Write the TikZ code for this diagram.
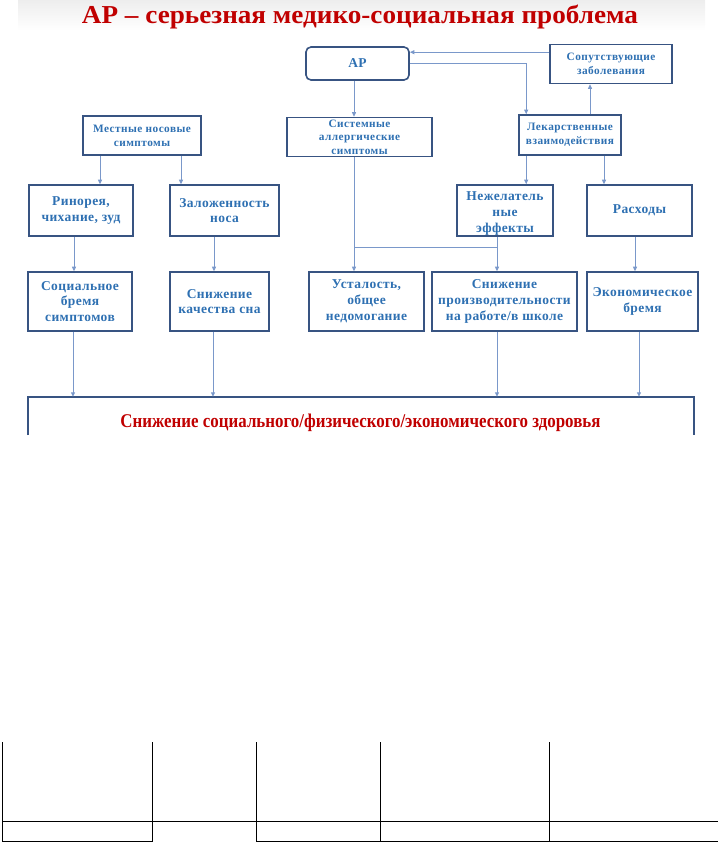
\documentclass[tikz,border=0pt]{standalone}
\usepackage{fontspec}
\setmainfont{Liberation Serif}
\newfontfamily\boxfont[LetterSpace=3]{Liberation Serif}
\newfontfamily\smallfamily[LetterSpace=4]{Liberation Serif}
\usetikzlibrary{arrows.meta,calc}
\definecolor{txtblue}{RGB}{46,112,178}
\definecolor{bordblue}{RGB}{56,84,130}
\definecolor{lineblue}{RGB}{122,152,202}
\definecolor{darkred}{RGB}{192,0,0}
\newcommand\bigboxfont{\boxfont\bfseries\fontsize{13.5}{15.8}\selectfont}
\newcommand\smallboxfont{\smallfamily\bfseries\fontsize{11.3}{14}\selectfont}
\tikzset{
  box/.style={draw=bordblue, line width=1.6pt, text=txtblue, font=\bigboxfont, align=center, inner sep=1pt},
  smallbox/.style={box, font=\smallboxfont},
  boxtext/.style={text=txtblue, font=\bigboxfont, align=center, inner sep=0pt},
  conn/.style={draw=lineblue, line width=0.9pt},
  arr/.style={conn, -{Triangle[length=4.5pt,width=4pt]}},
  tabline/.style={draw=black, line width=0.8pt},
}
\begin{document}
\begin{tikzpicture}[x=1pt,y=-1pt]
\useasboundingbox (0,0) rectangle (718,843);
\shade[top color=gray!14, bottom color=white] (18,0) rectangle (705,30);
% title
\node[anchor=base, text=darkred, font=\bfseries\fontsize{26}{30}\selectfont, inner sep=0] (title) at (360,24)
  {\resizebox{556pt}{18.5pt}{АР – серьезная медико-социальная проблема}};
% boxes
\node[box, rounded corners=5pt, minimum width=103, minimum height=33] (ap) at (357.5,63.5) {АР};
\node[smallbox, minimum width=122, minimum height=39] (sop) at (611,64) {Сопутствующие\\заболевания};
\node[smallbox, minimum width=118, minimum height=39] (mest) at (142,135.5) {Местные носовые\\симптомы};
\node[smallbox, minimum width=145, minimum height=39, font=\smallfamily\bfseries\fontsize{11.3}{13.6}\selectfont] (sys) at (359.5,137) {Системные\\аллергические\\симптомы};
\node[smallbox, minimum width=102, minimum height=40] (lek) at (570,135) {Лекарственные\\взаимодействия};
\node[box, minimum width=104, minimum height=51] (rin) at (81,210.5) {Ринорея,\\чихание, зуд};
\node[box, minimum width=109, minimum height=51] (zal) at (224.5,210.5) {Заложенность\\носа};
\node[box, minimum width=96, minimum height=51] (nezh) at (505,210.5) {};
\node[boxtext] (nezht) at ([yshift=-3pt]nezh.center) {Нежелатель\\ные\\эффекты};
\node[box, minimum width=105, minimum height=51] (ras) at (639.5,210.5) {Расходы};
\node[box, minimum width=104, minimum height=59] (soc) at (80,301.5) {Социальное\\бремя\\симптомов};
\node[box, minimum width=99, minimum height=59] (son) at (219.5,301.5) {Снижение\\качества сна};
\node[box, minimum width=115, minimum height=59] (ust) at (366.5,301.5) {Усталость,\\общее\\недомогание};
\node[box, minimum width=145, minimum height=59] (pro) at (504.5,301.5) {Снижение\\производительности\\на работе/в школе};
\node[box, minimum width=111, minimum height=59] (eko) at (642.5,301.5) {Экономическое\\бремя};
% bottom open box
\node[minimum width=666, minimum height=38, inner sep=0] (bot) at (361,416) {};
\draw[draw=bordblue, line width=1.6pt] (bot.south west) |- (bot.north east) -- (bot.south east);
\node[anchor=base, text=darkred, font=\bfseries\fontsize{18}{20}\selectfont, inner sep=0] (bottext) at (360.5,427)
  {\resizebox{480pt}{13.5pt}{Снижение социального/физического/экономического здоровья}};
% helper coordinates
\coordinate (apin) at ([yshift=-6pt]ap.north east);
\coordinate (lekin) at ([xshift=8pt]lek.north west);
\coordinate (sopin) at ([xshift=-21pt]sop.south);
\coordinate (apout) at ([xshift=-3.5pt]ap.south);
\coordinate (m1) at ([xshift=-42pt]mest.south);
\coordinate (m2) at ([xshift=39pt]mest.south);
\coordinate (l2) at ([xshift=34pt]lek.south);
\coordinate (r1) at ([xshift=-7pt]rin.south);
\coordinate (z1) at ([xshift=-10.5pt]zal.south);
\coordinate (ra1) at ([xshift=-4.5pt]ras.south);
\coordinate (n1) at ([xshift=-8pt]nezh.south);
\coordinate (hy) at (0,247);
\coordinate (s1) at ([xshift=-7pt]soc.south);
\coordinate (sn1) at ([xshift=-6.5pt]son.south);
\coordinate (p1) at ([xshift=-7.5pt]pro.south);
\coordinate (e1) at ([xshift=-3.5pt]eko.south);
% connectors
\draw[arr] (sop.west |- apin) -- (apin);
\draw[arr] (ap.east) -| (lekin);
\draw[arr] (lek.north -| sopin) -- (sopin);
\draw[arr] (apout) -- (apout |- sys.north);
\draw[arr] (m1) -- (m1 |- rin.north);
\draw[arr] (m2) -- (m2 |- zal.north);
\draw[arr] (lekin |- lek.south) -- (lekin |- nezh.north);
\draw[arr] (l2) -- (l2 |- ras.north);
\draw[arr] (r1) -- (r1 |- soc.north);
\draw[arr] (z1) -- (z1 |- son.north);
\draw[arr] (ra1) -- (ra1 |- eko.north);
\draw[arr] (apout |- sys.south) -- (apout |- ust.north);
\draw[arr] (n1) -- (n1 |- pro.north);
\draw[conn] (apout |- hy) -- (n1 |- hy);
\draw[arr] (s1) -- (s1 |- bot.north);
\draw[arr] (sn1) -- (sn1 |- bot.north);
\draw[arr] (p1) -- (p1 |- bot.north);
\draw[arr] (e1) -- (e1 |- bot.north);
% table fragment at bottom
\draw[tabline] (2,742) -- (2,841) -- (152,841) -- (152,742);
\draw[tabline] (256,742) -- (256,841) -- (718,841);
\draw[tabline] (380,742) -- (380,841);
\draw[tabline] (549,742) -- (549,841);
\draw[tabline] (2,821) -- (718,821);
\end{tikzpicture}
\end{document}
